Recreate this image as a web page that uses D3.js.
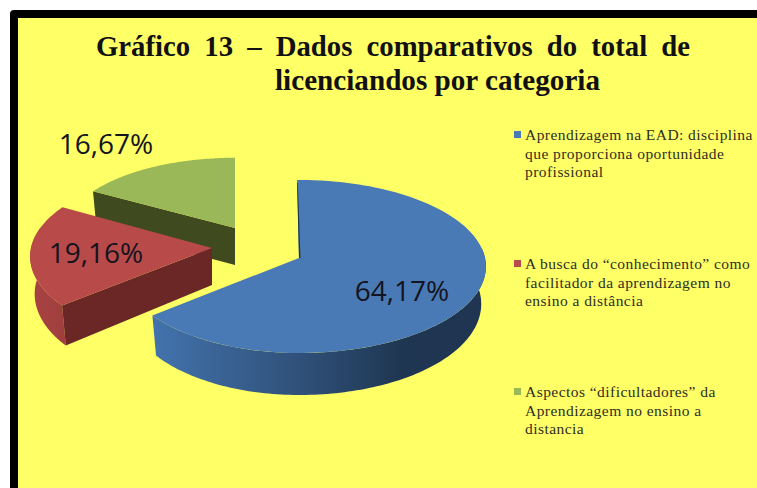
<!DOCTYPE html>
<html><head><meta charset="utf-8">
<script src="https://cdn.jsdelivr.net/npm/d3@7/dist/d3.min.js"></script>
<style>html,body{margin:0;padding:0;background:#fff}svg{display:block}</style>
</head><body><svg id="c" width="757" height="488"></svg>
<script>
const categories = ["Aprendizagem na EAD","A busca do conhecimento","Aspectos dificultadores"];
const values = [64.17, 19.16, 16.67];
const valueLabels = ["64,17%","19,16%","16,67%"];
const legendLines = [
  ["Aprendizagem na EAD: disciplina","que proporciona oportunidade","profissional"],
  ["A busca do “conhecimento” como","facilitador da aprendizagem no","ensino a distância"],
  ["Aspectos “dificultadores” da","Aprendizagem no ensino a","distancia"]
];
const titleLines = ["Gráfico 13 – Dados comparativos do total de","licenciandos por categoria"];
const topColors = ["#4a7ab5","#b84a4a","#9bb858"];
const wallColors = ["#1f3552","#6b2626","#3f4a1f"];
const apexes = [[299,258],[212,248],[235,228]];
const radiusLeft = [177,181,172];
const radiusRight = [186,186,186];
const yFactor = [1,1,0.9];
const depth = [37,37,37];
const labelPos = [[402,301],[96,263],[106,154]];
const svg = d3.select("#c");
const defs = svg.append("defs");
svg.append("rect").attr("x",10).attr("y",10).attr("width",760).attr("height",490).attr("rx",4).attr("fill","#000");
svg.append("rect").attr("x",18).attr("y",18).attr("width",750).attr("height",480).attr("fill","#ffff66");

const g1 = defs.append("linearGradient").attr("id","blueWall").attr("x1",0).attr("x2",1).attr("y1",0).attr("y2",0);
[[0,"#4373ad"],[0.45,"#2f5078"],[0.75,"#1f3652"],[1,"#1f3552"]].forEach(s=>g1.append("stop").attr("offset",s[0]).attr("stop-color",s[1]));
const g2 = defs.append("linearGradient").attr("id","redWall").attr("x1",0).attr("x2",1).attr("y1",0).attr("y2",0);
[[0,"#a84343"],[1,"#a03e3e"]].forEach(s=>g2.append("stop").attr("offset",s[0]).attr("stop-color",s[1]));
const outerFill = ["url(#blueWall)","url(#redWall)","#5a6a2c"];

const persp = 0.098, ry = 85.7, shrink = 0.975, frontGrow = 5;
const arcs = d3.pie().sort(null)(values);
function proj(i,a,bottom){
  const [cx,cy]=apexes[i];
  const s=Math.sin(a),c=Math.cos(a),d=1+persp*c;
  const rx=s>0?radiusRight[i]:radiusLeft[i];
  const x=rx*s/d, y=cy-yFactor[i]*ry*c/d;
  if(!bottom) return [cx+x,y];
  return [cx+x*shrink, y+depth[i]+frontGrow*Math.max(0,-c)];
}
const line=d3.line();
function rim(i,a0,a1,bottom){return d3.range(0,121).map(k=>proj(i,a0+(a1-a0)*k/120,bottom));}
[2,1,0].forEach(i=>{
  const d=arcs[i],a0=d.startAngle,a1=d.endAngle,h=depth[i];
  const g=svg.append("g");
  const [cx,cy]=apexes[i];
  const lo=Math.max(a0,Math.PI/2-0.12), hi=Math.min(a1,1.5*Math.PI+0.25);
  if(hi>lo){
    const top=rim(i,lo,hi,false), bot=rim(i,lo,hi,true).reverse();
    g.append("path").attr("d",line(top.concat(bot))+"Z").attr("fill",outerFill[i]);
  }
  if(i>0){
    const p=proj(i,a0,false), q=proj(i,a0,true);
    g.append("path").attr("d",line([[cx,cy],p,q,[cx,cy+h]])+"Z").attr("fill",wallColors[i]);
  }
  const start = i===0 ? a0-0.012 : a0;
  g.append("path").attr("d",line([[cx,cy]].concat(rim(i,start,a1,false)))+"Z").attr("fill",topColors[i]);
  if(i===0){
    const p=proj(0,start,false);
    g.append("path").attr("d",line([[p[0],p[1]+3],[cx,cy],[cx+1.5,cy],[p[0]+0.8,p[1]+3]])+"Z").attr("fill",wallColors[0]);
  }
});

const txt="'Liberation Serif','Times New Roman',serif";
svg.selectAll("text.val").data(valueLabels).join("text").attr("class","val")
  .attr("x",(d,i)=>labelPos[i][0]).attr("y",(d,i)=>labelPos[i][1])
  .attr("text-anchor","middle").attr("font-family","'Open Sans',Lato,sans-serif")
  .attr("font-size",28).attr("fill","#14141e").text(d=>d);

const titleG=svg.append("g").attr("font-family",txt).attr("font-weight","bold").attr("font-size",29).attr("fill","#111");
titleG.append("text").attr("x",96).attr("y",56).attr("word-spacing",7)
  .attr("textLength",594).attr("lengthAdjust","spacingAndGlyphs").text(titleLines[0]);
titleG.append("text").attr("x",275).attr("y",90)
  .attr("textLength",325).attr("lengthAdjust","spacingAndGlyphs").text(titleLines[1]);

const legY=[140,269,397], legX=525;
legendLines.forEach((ls,i)=>{
  svg.append("rect").attr("x",514).attr("y",legY[i]-9).attr("width",7).attr("height",7).attr("fill",topColors[i]);
  ls.forEach((t,j)=>svg.append("text").attr("x",legX).attr("y",legY[i]+j*18.5)
    .attr("font-family",txt).attr("font-size",15.5).attr("letter-spacing",0.45).attr("fill","#2e2e22").text(t));
});
</script></body></html>
